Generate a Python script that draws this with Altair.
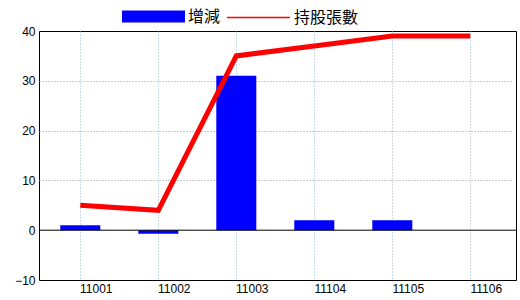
import altair as alt
import pandas as pd

periods = ["11001", "11002", "11003", "11104", "11105", "11106"]
change = [1, -0.7, 31, 2, 2, 0]
holders = [5, 4, 35, 37, 39, 39]

bar_df = pd.DataFrame({"period": periods, "value": change, "series": "增減"})
line_df = pd.DataFrame({"period": periods, "value": holders, "series": "持股張數"})
zero_df = pd.DataFrame({"v": [0]})

legend_common = dict(
    orient="none", direction="horizontal", title=None,
    labelFont="Noto Sans CJK TC", labelFontSize=16, labelColor="#000000",
    symbolSize=3969, labelOffset=3,
)

bar_legend = alt.Legend(legendX=83, legendY=-46,
                        symbolType="M-1,-0.19H1V0.19H-1Z",
                        symbolFillColor="#0000ff", symbolStrokeWidth=0,
                        symbolOpacity=1, **legend_common)
line_legend = alt.Legend(legendX=187, legendY=-46,
                         symbolType="M-1,0H1",
                         symbolStrokeColor="#ff0000", symbolStrokeWidth=1.5,
                         symbolOpacity=1, **legend_common)

x_enc = alt.X(
    "period:N", sort=periods, title=None,
    scale=alt.Scale(paddingInner=0.487, paddingOuter=0.273, range=[0, 472.6]),
    axis=alt.Axis(labelAngle=0, labelOffset=16, labelPadding=3, ticks=False, domain=False,
                  labelFont="Liberation Sans", labelFontSize=12, labelColor="#000000",
                  grid=True, gridColor="#8fb8d0", gridDash=[1, 2], gridWidth=1),
)
y_scale = alt.Scale(domain=[-10, 40], nice=False, zero=False)
y_axis = alt.Axis(values=[-10, 0, 10, 20, 30, 40], title=None, ticks=False, domain=False,
                  labelPadding=4, labelFont="Liberation Sans", labelFontSize=12,
                  labelColor="#000000", grid=True, gridColor="#999999", gridDash=[1, 2],
                  gridOpacity={"condition": {"test": "datum.value == 40 || datum.value == -10 || datum.value == 0",
                                             "value": 0}, "value": 1})

bars = alt.Chart(bar_df).mark_bar().encode(
    x=x_enc,
    y=alt.Y("value:Q", scale=y_scale, axis=y_axis),
    color=alt.Color("series:N", scale=alt.Scale(domain=["增減"], range=["#0000ff"]), legend=bar_legend),
)

zero = alt.Chart(zero_df).mark_rule(color="#000000", strokeWidth=1).encode(
    y=alt.Y("v:Q", scale=y_scale)
)

line = alt.Chart(line_df).mark_line(strokeWidth=5).encode(
    x=alt.X("period:N", sort=periods),
    y=alt.Y("value:Q", scale=y_scale),
    color=alt.Color("series:N", scale=alt.Scale(domain=["持股張數"], range=["#ff0000"]), legend=line_legend),
)

chart = alt.layer(bars, zero, line).resolve_scale(color="independent").properties(
    width=477, height=249,
    autosize=alt.AutoSizeParams(type="none"),
    padding={"left": 39, "top": 31, "right": 4, "bottom": 20},
    background="#ffffff",
).configure_view(stroke="#000000", strokeWidth=1)

chart.save("out.html", embed_options={"renderer": "svg", "actions": False})
